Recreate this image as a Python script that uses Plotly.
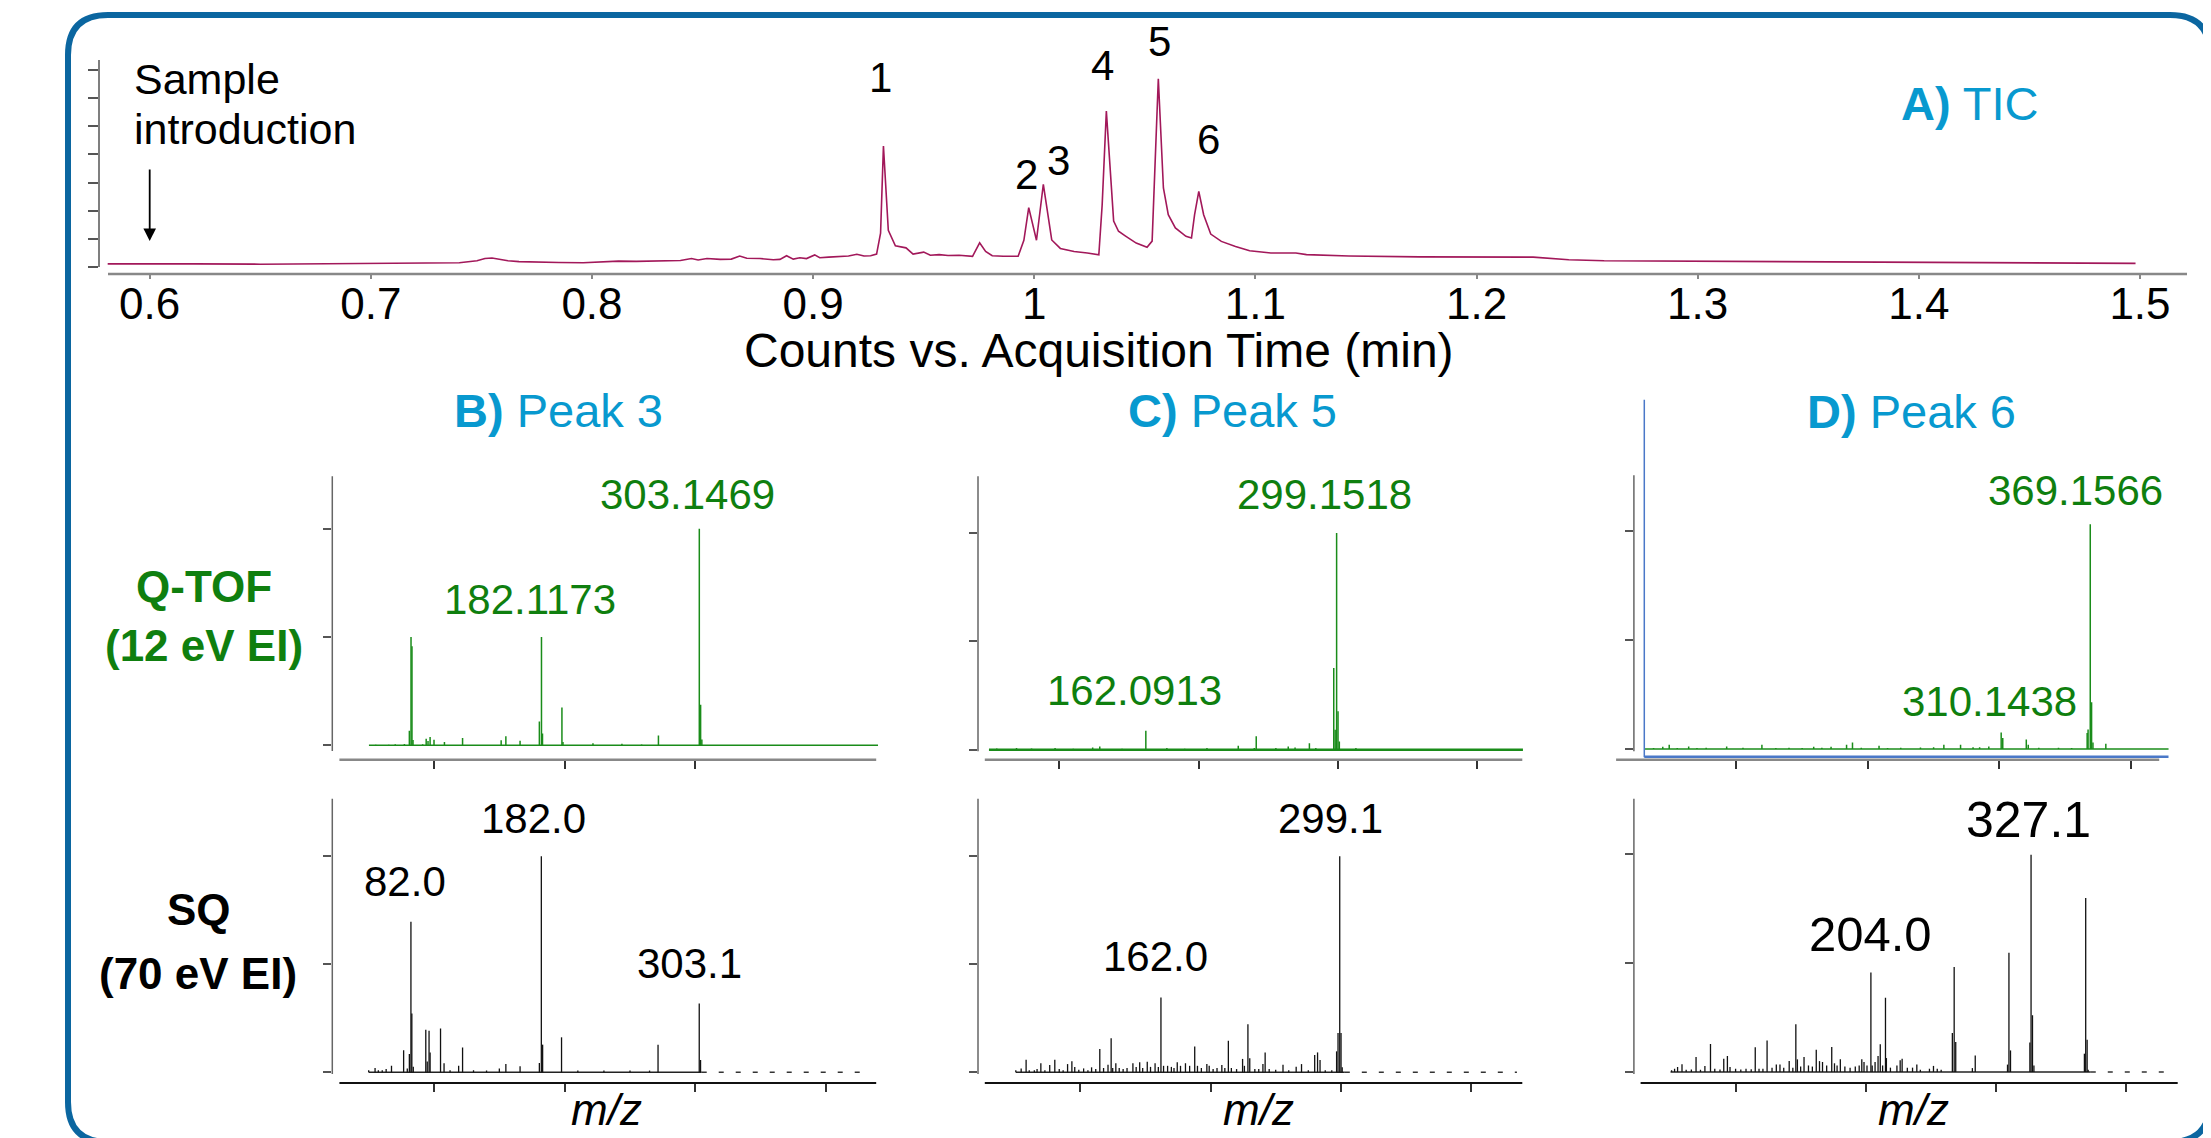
import plotly.graph_objects as go

# ======================= DATA =======================
# Panel A: total ion chromatogram (arbitrary count units)
tic_time = [0.581, 0.60, 0.62, 0.65, 0.68, 0.70, 0.72, 0.74, 0.748, 0.7516, 0.7548, 0.758, 0.762,
            0.767, 0.775, 0.785, 0.796, 0.805, 0.812, 0.82, 0.83, 0.84, 0.845, 0.848, 0.852, 0.858,
            0.863, 0.8668, 0.87, 0.876, 0.882, 0.885, 0.888, 0.891, 0.894, 0.897, 0.9007, 0.903,
            0.907, 0.912, 0.916, 0.9198, 0.923, 0.926, 0.9287, 0.9305, 0.9318, 0.934, 0.9372, 0.942,
            0.9452, 0.950, 0.953, 0.957, 0.961, 0.966, 0.9721, 0.9753, 0.978, 0.981, 0.986, 0.9927,
            0.9953, 0.9975, 1.001, 1.0041, 1.0079, 1.0118, 1.018, 1.024, 1.0292, 1.0307, 1.0326,
            1.0359, 1.0381, 1.0413, 1.0461, 1.051, 1.0533, 1.0561, 1.0584, 1.0606, 1.0638, 1.0686,
            1.0711, 1.0725, 1.0744, 1.0766, 1.0798, 1.0846, 1.091, 1.0974, 1.107, 1.1183, 1.1231,
            1.1423, 1.1743, 1.2256, 1.2417, 1.2577, 1.2994, 1.3538, 1.418, 1.498]
tic_counts = [0.11, 0.10, 0.11, 0.10, 0.11, 0.11, 0.12, 0.15, 0.22, 0.30, 0.32, 0.27, 0.22,
              0.19, 0.17, 0.16, 0.15, 0.19, 0.21, 0.20, 0.22, 0.23, 0.30, 0.25, 0.30, 0.27,
              0.28, 0.39, 0.31, 0.30, 0.26, 0.27, 0.40, 0.28, 0.33, 0.30, 0.43, 0.33,
              0.35, 0.37, 0.39, 0.45, 0.39, 0.40, 0.46, 1.20, 4.30, 1.30, 0.75, 0.68,
              0.46, 0.53, 0.42, 0.44, 0.41, 0.42, 0.38, 0.86, 0.55, 0.40, 0.38, 0.38,
              0.95, 2.11, 0.95, 2.94, 0.96, 0.66, 0.55, 0.50, 0.43, 2.20, 5.54,
              1.63, 1.27, 1.10, 0.85, 0.70, 0.92, 6.69, 2.81, 1.86, 1.39, 1.09,
              1.03, 1.86, 2.69, 1.86, 1.17, 0.91, 0.73, 0.58, 0.50, 0.50, 0.44,
              0.39, 0.36, 0.35, 0.26, 0.22, 0.20, 0.18, 0.15, 0.13]
tic_peak_ids = ["1", "2", "3", "4", "5", "6"]
tic_ticks = [0.6, 0.7, 0.8, 0.9, 1.0, 1.1, 1.2, 1.3, 1.4, 1.5]
tic_ticktext = ["0.6", "0.7", "0.8", "0.9", "1", "1.1", "1.2", "1.3", "1.4", "1.5"]
tic_yticks = [0, 1, 2, 3, 4, 5, 6, 7]

# Q-TOF (12 eV EI) spectra, relative abundance (%)
qtofB_mz = [55, 65, 70, 77, 80.8, 82.07, 82.8, 83.6, 91, 93.7, 95.1, 96.7, 99.7, 107.7, 121.6,
            151.2, 154.8, 165.7, 180.5, 182.12, 182.9, 197.8, 198.6, 221.6, 243.8, 258.9,
            271.8, 303.15, 304.15, 305.1]
qtofB_int = [0.3, 0.3, 0.5, 0.6, 6.7, 50.0, 45.7, 2.5, 0.5, 3.0, 2.0, 3.8, 2.6, 1.5, 3.4,
             2.3, 4.2, 2.1, 11.0, 50.0, 5.5, 17.5, 1.5, 1.0, 0.7, 0.4,
             4.5, 100.0, 18.7, 2.7]
qtofB_span = [49.8, 440.2]
qtofB_labels = ["303.1469", "182.1173"]

qtofC_mz = [55, 69.2, 80, 96.9, 110, 123.9, 129, 145, 162.09, 177.2, 190, 206, 228.5, 240,
            241.4, 255.5, 264.4, 269.3, 279.6, 284.2, 297.1, 298.1, 299.15, 300.15, 301.1, 313]
qtofC_int = [0.5, 0.8, 0.5, 0.8, 0.4, 1.0, 1.5, 0.4, 8.8, 0.8, 0.4, 0.8, 1.8, 0.8,
             6.2, 0.8, 1.5, 1.0, 3.0, 0.8, 37.7, 9.2, 100.0, 17.7, 3.8, 0.8]
qtofC_span = [49.4, 433.0]
qtofC_labels = ["299.1518", "162.0913"]

qtofD_mz = [37.0, 44.0, 48.9, 55, 63.7, 70, 77, 92.6, 105, 119.4, 130, 140, 150, 158.8, 165,
            172.0, 183.8, 188.3, 195, 208.5, 215, 225, 240, 250, 257.8, 270.5, 280, 285, 292.0,
            301.4, 302.6, 320.5, 322.0, 330, 345, 355, 366.8, 367.5, 369.16, 370.16, 371.2, 381.0]
qtofD_int = [0.5, 1.0, 2.0, 0.5, 1.2, 0.5, 0.6, 1.2, 0.6, 2.0, 0.5, 0.6, 0.5, 1.0, 0.6,
             1.0, 2.0, 3.0, 0.6, 1.5, 0.5, 0.6, 0.7, 0.8, 2.0, 2.0, 0.8, 0.8, 1.2,
             7.6, 5.0, 4.3, 2.0, 0.6, 0.6, 0.5, 7.3, 8.9, 103.0, 21.4, 3.0, 2.4]
qtofD_span = [30.5, 428.7]
qtofD_labels = ["369.1566", "310.1438"]

# SQ (70 eV EI) spectra, relative abundance (%)
sqB_mz = [49.6, 54.5, 57, 60, 63, 67.1, 76.4, 79.2, 80.8, 82.0, 82.7, 83.8, 93.4, 94.5, 95.9,
          96.7, 104.7, 107.4, 112, 118.6, 121.6, 130, 140, 149.8, 154.8, 165.7, 180.5, 182.0,
          183.0, 197.5, 210, 230, 250, 265, 271.5, 303.1, 304.1]
sqB_int = [1.0, 2.0, 1.0, 1.0, 1.5, 3.0, 10.2, 1.8, 8.5, 69.7, 27.2, 2.6, 19.7, 5.0, 19.2,
           9.2, 20.3, 4.2, 1.0, 3.0, 11.5, 1.0, 0.8, 1.8, 3.8, 2.8, 4.3, 100.0,
           12.8, 16.2, 0.8, 0.8, 0.8, 0.8, 12.8, 31.8, 5.7]
sqB_span = [49.6, 305.0, 433.3]
sqB_labels = ["182.0", "82.0", "303.1"]

sqC_mz = [50.7, 54.8, 58.6, 61, 64.9, 67, 69.9, 73, 76.7, 80.6, 84, 87, 90.4, 93.7, 95.9, 99,
          102.7, 106, 108.8, 112, 115.1, 118, 121.4, 123.8, 125, 127.4, 130, 133, 136, 140.5,
          143, 145.7, 148, 151.5, 154, 157.5, 160, 162.0, 164, 167.1, 170, 172, 174.5, 177,
          180.8, 184, 187.9, 190, 193, 197.2, 199, 202, 205, 208.7, 211, 213.7, 216, 220,
          224.6, 226, 228.7, 230.1, 234, 237, 240.2, 241.9, 245, 250, 255.6, 260, 265.7,
          269.8, 275, 279.9, 282.1, 284, 288, 293, 296.7, 297.8, 299.1, 300.1, 301]
sqC_int = [1.0, 1.8, 5.8, 1.0, 1.0, 1.5, 4.2, 1.0, 3.4, 5.8, 1.5, 1.0, 3.8, 5.1, 2.5, 1.2,
           1.8, 1.0, 2.3, 1.5, 10.8, 2.0, 3.5, 15.8, 2.0, 4.2, 2.0, 1.5, 2.0, 4.2,
           2.5, 4.6, 2.0, 4.9, 2.5, 4.2, 2.5, 34.6, 3.0, 3.0, 2.5, 2.0, 4.6, 3.0,
           4.2, 3.0, 12.0, 3.0, 2.0, 3.8, 3.0, 1.5, 2.0, 3.4, 2.0, 14.6, 2.0, 1.5,
           6.2, 3.0, 22.3, 6.5, 1.5, 1.5, 3.8, 9.2, 1.5, 1.2, 3.5, 1.0, 2.6,
           3.8, 1.0, 8.0, 9.2, 5.7, 1.0, 1.0, 9.7, 18.2, 100.0, 18.2, 2.3]
sqC_span = [50.7, 303.0, 435.0]
sqC_labels = ["299.1", "162.0"]

sqD_mz = [50.8, 53.1, 55.4, 58.8, 62, 66, 69.6, 73, 76.4, 80.7, 84, 88, 90.9, 93.7, 95.7, 100,
          104, 108, 112, 115.1, 118, 121, 124.2, 128, 131.3, 134.1, 137, 141.2, 144, 146.3,
          147.5, 150, 152.6, 156, 159, 162, 164.5, 166.8, 170, 173.9, 176, 178, 180.5, 184,
          188, 192, 195, 197, 198.7, 201, 204.0, 205, 207.2, 209.5, 211.2, 213, 215.2, 215.9,
          219, 224, 226.5, 228, 232, 236, 239.3, 242, 249, 252.1, 255, 258, 266.6, 268.0,
          269.2, 282, 284.2, 309, 310.1, 311.3, 326.2, 327.1, 328.2, 329.3, 368.1, 369.1,
          370.2, 371]
sqD_int = [0.8, 1.5, 2.3, 3.5, 1.0, 1.2, 6.9, 1.0, 2.8, 12.8, 1.5, 1.2, 6.1, 7.3, 2.3, 1.5,
           1.2, 1.5, 1.3, 11.3, 1.5, 1.5, 14.4, 2.0, 3.4, 3.4, 2.0, 5.0, 2.0, 21.9,
           5.8, 2.5, 6.9, 3.0, 2.5, 10.2, 5.0, 4.6, 3.0, 11.5, 4.0, 3.0, 5.8, 2.5,
           2.0, 2.5, 3.0, 5.8, 4.6, 3.0, 45.6, 3.0, 4.6, 7.3, 12.7, 3.0, 34.1, 6.4,
           2.0, 3.0, 5.4, 6.1, 2.0, 2.0, 3.4, 1.0, 1.5, 2.8, 1.5, 1.0, 17.9, 48.2,
           13.8, 1.8, 7.6, 3.4, 54.7, 9.9, 13.5, 99.7, 26.0, 3.0, 8.4, 79.8,
           14.8, 1.0]
sqD_span = [50.0, 373.0, 432.7]
sqD_labels = ["327.1", "204.0"]

spec_ticks = [100, 200, 300, 400]
spec_ticks_B_top = [100, 200, 300]
int_ticks = [0, 50, 100]

# ======================= LAYOUT HELPERS =======================
W, H = 2211, 1138
def X(px): return px / W
def Y(py): return 1 - py / H

FONT = "Liberation Sans, Arial, Helvetica, sans-serif"
GREEN_LINE = "#1a8c1a"
GREEN_TEXT = "#0f7f0f"
BLUE = "#0899cf"
MAGENTA = "#a2185a"

def xr(L, R, pref, vref, ppu):
    return [vref + (L - pref) / ppu, vref + (R - pref) / ppu]

def yr(T, B, p0, ppu):
    return [(p0 - B) / ppu, (p0 - T) / ppu]

def sticks(mz, inten):
    xs, ys = [], []
    for m, v in zip(mz, inten):
        xs += [m, m, None]
        ys += [0, v, None]
    return xs, ys

fig = go.Figure()

panels = {
    "1": dict(L=91, R=2182, T=52, B=266, xrange=xr(91, 2182, 141.7, 0.6, 2211.4), yrange=yr(52, 266, 259, 28.14)),
    "2": dict(L=324.3, R=872, T=468.3, B=751.7, xrange=xr(324.3, 872, 426.4, 100, 1.304), yrange=yr(468.3, 751.7, 737.3, 2.166)),
    "3": dict(L=970, R=1517, T=468.3, B=751.7, xrange=xr(970, 1517, 1051.4, 100, 1.392), yrange=yr(468.3, 751.7, 741.7, 2.1667)),
    "4": dict(L=1625.9, R=2163, T=467.3, B=751.7, xrange=xr(1625.9, 2163, 1728.4, 100, 1.3147), yrange=yr(467.3, 751.7, 741.0, 2.183)),
    "5": dict(L=324.3, R=872, T=790.7, B=1075, xrange=xr(324.3, 872, 426.4, 100, 1.304), yrange=yr(790.7, 1075, 1064.3, 2.16)),
    "6": dict(L=970, R=1517, T=790.7, B=1075, xrange=xr(970, 1517, 1072.1, 100, 1.304), yrange=yr(790.7, 1075, 1064.3, 2.16)),
    "7": dict(L=1625.9, R=2170, T=790.7, B=1075, xrange=xr(1625.9, 2170, 1727.6, 100, 1.301), yrange=yr(790.7, 1075, 1064.0, 2.18)),
}

def ax_names(k):
    return ("x" if k == "1" else "x" + k), ("y" if k == "1" else "y" + k)

# ---- traces ----
xa, ya = ax_names("1")
fig.add_trace(go.Scatter(x=tic_time, y=tic_counts, mode="lines", line=dict(color=MAGENTA, width=1.6),
                         xaxis=xa, yaxis=ya, hoverinfo="skip"))

def add_qtof(k, mz, inten, span, base_w):
    xa, ya = ax_names(k)
    fig.add_trace(go.Scatter(x=[span[0], span[1]], y=[0, 0], mode="lines",
                             line=dict(color=GREEN_LINE, width=base_w), xaxis=xa, yaxis=ya, hoverinfo="skip"))
    sx, sy = sticks(mz, inten)
    fig.add_trace(go.Scatter(x=sx, y=sy, mode="lines", line=dict(color=GREEN_LINE, width=1.5),
                             xaxis=xa, yaxis=ya, hoverinfo="skip"))

def add_sq(k, mz, inten, span):
    xa, ya = ax_names(k)
    fig.add_trace(go.Scatter(x=[span[0], span[1]], y=[0, 0], mode="lines",
                             line=dict(color="#222", width=1.5), xaxis=xa, yaxis=ya, hoverinfo="skip"))
    fig.add_trace(go.Scatter(x=[span[1], span[2]], y=[0, 0], mode="lines",
                             line=dict(color="#333", width=1.5, dash="5px,12px"), xaxis=xa, yaxis=ya, hoverinfo="skip"))
    sx, sy = sticks(mz, inten)
    fig.add_trace(go.Scatter(x=sx, y=sy, mode="lines", line=dict(color="#111", width=1.3),
                             xaxis=xa, yaxis=ya, hoverinfo="skip"))

add_qtof("2", qtofB_mz, qtofB_int, qtofB_span, 1.6)
add_qtof("3", qtofC_mz, qtofC_int, qtofC_span, 2.6)
add_qtof("4", qtofD_mz, qtofD_int, qtofD_span, 1.6)
add_sq("5", sqB_mz, sqB_int, sqB_span)
add_sq("6", sqC_mz, sqC_int, sqC_span)
add_sq("7", sqD_mz, sqD_int, sqD_span)

# ---- axes ----
layout = dict(width=W, height=H, margin=dict(l=0, r=0, t=0, b=0), autosize=False,
              paper_bgcolor="white", plot_bgcolor="rgba(0,0,0,0)", showlegend=False)

for k, p in panels.items():
    xa, ya = ax_names(k)
    xkey = "xaxis" if k == "1" else "xaxis" + k
    ykey = "yaxis" if k == "1" else "yaxis" + k
    if k == "1":
        xt = dict(tickvals=tic_ticks, ticktext=tic_ticktext, showticklabels=True, ticklen=4,
                  tickcolor="#888", tickwidth=1.5, ticklabelstandoff=-13,
                  tickfont=dict(family=FONT, size=44, color="black"))
        yt = dict(tickvals=tic_yticks, ticklen=10, tickcolor="#555", tickwidth=1.5)
    else:
        tv = spec_ticks_B_top if k == "2" else spec_ticks
        xt = dict(tickvals=tv, showticklabels=False, ticklen=8, tickcolor="#333", tickwidth=1.5)
        yt = dict(tickvals=int_ticks, ticklen=8, tickcolor="#555", tickwidth=1.5)
    layout[xkey] = dict(domain=[X(p["L"]), X(p["R"])], range=p["xrange"], anchor=ya,
                        showgrid=False, zeroline=False, showline=False, ticks="outside",
                        fixedrange=True, **xt)
    layout[ykey] = dict(domain=[Y(p["B"]), Y(p["T"])], range=p["yrange"], anchor=xa,
                        showgrid=False, zeroline=False, showline=False, ticks="outside",
                        showticklabels=False, fixedrange=True, **yt)

# ---- shapes: axis lines, frame ----
shapes = []
def line(x0, y0, x1, y1, color, width):
    shapes.append(dict(type="line", xref="paper", yref="paper", x0=X(x0), y0=Y(y0), x1=X(x1), y1=Y(y1),
                       line=dict(color=color, width=width), layer="above"))

line(91, 52, 91, 259, "#555", 1.5)
line(100, 266, 2179, 266, "#888", 2.5)
for xx, t, b in [(324.3, 468.3, 743), (970, 468.3, 743.3), (1625.9, 467.3, 743.3),
                 (324.3, 790.7, 1066), (970, 790.7, 1066), (1625.9, 790.7, 1066)]:
    line(xx, t, xx, b, "#666", 1.5)
line(331.4, 751.7, 868.2, 751.7, "#888", 2.5)
line(976.8, 751.7, 1514.3, 751.7, "#888", 2.5)
line(1608.1, 751.7, 2151.2, 751.7, "#888", 2.5)
line(331.4, 1075, 868.2, 1075, "#111", 2)
line(976.8, 1075, 1514.3, 1075, "#111", 2)
line(1632.6, 1075, 2169.7, 1075, "#111", 2)
line(1636.3, 391.7, 1636.3, 749.3, "#4a78c8", 1.5)
line(1636.3, 748.7, 2160.5, 748.7, "#4a78c8", 2.5)

l, t, r, b, rad = 60, 7, 2202, 1134, 40
path = (f"M {X(l+rad)},{Y(t)} L {X(r-rad)},{Y(t)} Q {X(r)},{Y(t)} {X(r)},{Y(t+rad)} "
        f"L {X(r)},{Y(b-rad)} Q {X(r)},{Y(b)} {X(r-rad)},{Y(b)} "
        f"L {X(l+rad)},{Y(b)} Q {X(l)},{Y(b)} {X(l)},{Y(b-rad)} "
        f"L {X(l)},{Y(t+rad)} Q {X(l)},{Y(t)} {X(l+rad)},{Y(t)} Z")
shapes.append(dict(type="path", xref="paper", yref="paper", path=path,
                   line=dict(color="#0b66a0", width=6), layer="above"))
layout["shapes"] = shapes

# ---- annotations ----
anns = []
def ann(text, px, py, size, color="black", xanchor="center"):
    # py is the visual centre of the capitals; shift for the text box offset
    anns.append(dict(text=text, x=X(px), y=Y(py - 0.21 * size), xref="paper", yref="paper", showarrow=False,
                     font=dict(size=size, color=color, family=FONT), xanchor=xanchor, yanchor="middle"))

for lab, (px, py) in zip(tic_peak_ids, [(872, 78), (1018.6, 175), (1050, 161), (1094, 66), (1151.7, 42), (1200.6, 140)]):
    ann(lab, px, py, 42)
ann("Sample", 124, 80, 43, xanchor="left")
ann("introduction", 124, 130, 43, xanchor="left")
anns.append(dict(text="", x=X(141.7), y=Y(233), xref="paper", yref="paper", ax=0, ay=-73,
                 showarrow=True, arrowhead=2, arrowsize=1.4, arrowwidth=1.8, arrowcolor="black", standoff=0))
ann("<b>A)</b> TIC", 1962, 105, 47, BLUE)
ann("Counts vs. Acquisition Time (min)", 1091, 353, 48)

ann("<b>B)</b> Peak 3", 550, 412, 47, BLUE)
ann("<b>C)</b> Peak 5", 1224, 412, 47, BLUE)
ann("<b>D)</b> Peak 6", 1903, 413, 47, BLUE)

ann("<b>Q-TOF</b>", 196, 588, 44, GREEN_TEXT)
ann("<b>(12 eV EI)</b>", 195.5, 647, 44, GREEN_TEXT)
ann("<b>SQ</b>", 190.5, 911, 44, "black")
ann("<b>(70 eV EI)</b>", 189.5, 975, 44, "black")

ann(qtofB_labels[0], 679, 495, 42, GREEN_TEXT)
ann(qtofB_labels[1], 522.3, 600, 42, GREEN_TEXT)
ann(qtofC_labels[0], 1316, 495, 42, GREEN_TEXT)
ann(qtofC_labels[1], 1126.3, 691, 42, GREEN_TEXT)
ann(qtofD_labels[0], 2067.6, 491, 42, GREEN_TEXT)
ann(qtofD_labels[1], 1981, 702, 42, GREEN_TEXT)
ann(sqB_labels[0], 525.9, 819, 42)
ann(sqB_labels[1], 397, 882, 42)
ann(sqB_labels[2], 681, 964, 42)
ann(sqC_labels[0], 1322.7, 819, 42)
ann(sqC_labels[1], 1147.1, 957.5, 42)
ann(sqD_labels[0], 2020.8, 822, 50)
ann(sqD_labels[1], 1862.3, 936, 49)

for px in (598.6, 1250.4, 1905):
    ann("<i>m/z</i>", px, 1111, 44)

layout["annotations"] = anns
fig.update_layout(**layout)
fig.write_html("out.html")
